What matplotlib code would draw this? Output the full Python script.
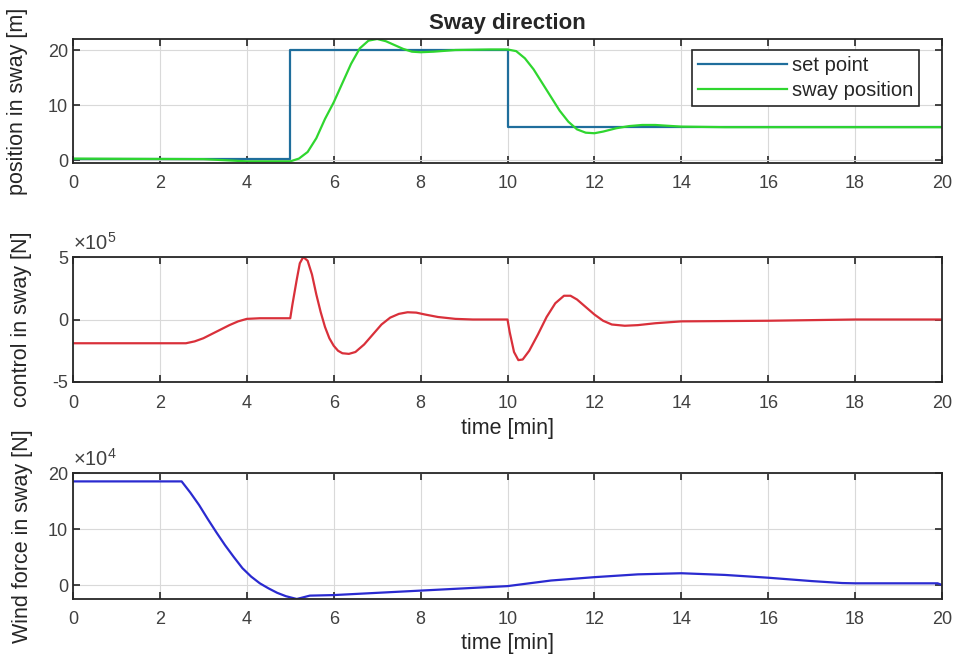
import numpy as np
import matplotlib
matplotlib.use("Agg")
import matplotlib.pyplot as plt
from matplotlib.ticker import FuncFormatter

plt.rcParams['font.family'] = ['Liberation Sans', 'DejaVu Sans']
plt.rcParams['axes.unicode_minus'] = False
plt.rcParams['mathtext.fontset'] = 'custom'
plt.rcParams['mathtext.rm'] = 'Liberation Sans'
plt.rcParams['mathtext.it'] = 'Liberation Sans:italic'

# ---- data ----
setpoint_t = [0, 5, 5, 10, 10, 20]
setpoint_y = [0.3, 0.3, 20, 20, 6, 6]

sway_t = [0, 3, 4, 5, 5.2, 5.4, 5.6, 5.8, 6.0, 6.2, 6.4, 6.6, 6.8, 7.0, 7.2, 7.4, 7.6,
          7.8, 8.0, 8.3, 8.8, 9.6, 10.0, 10.2, 10.4, 10.6, 10.8, 11.0, 11.2, 11.4,
          11.6, 11.8, 12.0, 12.2, 12.5, 12.8, 13.1, 13.4, 14.0, 15.0, 20.0]
sway_y = [0.3, 0.2, -0.2, -0.2, 0.3, 1.5, 4.0, 7.5, 10.5, 14.0, 17.5, 20.3, 21.7, 22.0,
          21.6, 20.9, 20.2, 19.7, 19.6, 19.7, 20.0, 20.1, 20.1, 19.8, 18.5, 16.5,
          14.0, 11.5, 9.0, 7.0, 5.6, 5.0, 4.9, 5.2, 5.8, 6.2, 6.4, 6.4, 6.1, 6.0, 6.0]

control_t = [0, 2.6, 2.8, 3.0, 3.2, 3.4, 3.6, 3.8, 4.0, 4.3, 5.0, 5.05, 5.15, 5.22,
             5.3, 5.4, 5.5, 5.6, 5.7, 5.8, 5.9, 6.0, 6.1, 6.2, 6.35, 6.5, 6.7, 6.9,
             7.1, 7.3, 7.5, 7.7, 7.9, 8.1, 8.4, 8.8, 9.2, 10.0, 10.05, 10.15, 10.25,
             10.35, 10.5, 10.7, 10.9, 11.1, 11.3, 11.45, 11.6, 11.8, 12.0, 12.2,
             12.4, 12.7, 13.0, 13.4, 14.0, 16.0, 18.0, 20.0]
control_1e5 = [-1.9, -1.9, -1.75, -1.5, -1.15, -0.8, -0.45, -0.15, 0.05, 0.1, 0.1,
               1.2, 3.2, 4.5, 5.0, 4.7, 3.6, 2.0, 0.6, -0.6, -1.5, -2.1, -2.5, -2.7,
               -2.75, -2.6, -2.0, -1.2, -0.4, 0.15, 0.45, 0.58, 0.55, 0.4, 0.2, 0.05,
               0.0, 0.0, -1.0, -2.6, -3.25, -3.2, -2.5, -1.2, 0.2, 1.3, 1.9, 1.9, 1.6,
               1.0, 0.4, -0.1, -0.4, -0.5, -0.45, -0.3, -0.15, -0.1, 0.0, 0.0]

wind_t = [0, 2.5, 2.7, 2.9, 3.1, 3.3, 3.5, 3.7, 3.9, 4.1, 4.3, 4.5, 4.7, 4.9, 5.15,
          5.3, 5.45, 6.0, 7.0, 8.0, 9.0, 10.0, 10.5, 11.0, 12.0, 13.0, 14.0, 15.0,
          16.0, 17.0, 17.7, 18.0, 19.9, 20.0]
wind_1e4 = [18.5, 18.5, 16.5, 14.3, 11.8, 9.4, 7.1, 5.0, 3.0, 1.5, 0.3, -0.6, -1.4,
            -2.0, -2.5, -2.2, -1.9, -1.8, -1.4, -1.0, -0.6, -0.2, 0.3, 0.8, 1.4, 1.9,
            2.1, 1.8, 1.3, 0.7, 0.35, 0.3, 0.3, 0.0]

xticks = [0, 2, 4, 6, 8, 10, 12, 14, 16, 18, 20]

# ---- figure ----
fig = plt.figure(figsize=(9.57, 6.61), dpi=100)
W, H = 957, 661
def rect(l, t, r, b):
    return [l / W, 1 - b / H, (r - l) / W, (b - t) / H]

ax1 = fig.add_axes(rect(73, 39, 942, 163))
ax2 = fig.add_axes(rect(73, 257, 942, 382))
ax3 = fig.add_axes(rect(73, 473, 942, 599))

FS = 13
LFS = 15.5
TXT = '#262626'
for ax in (ax1, ax2, ax3):
    ax.set_xlim(0, 20)
    ax.set_xticks(xticks)
    ax.grid(True, color='#d9d9d9', linewidth=0.8)
    ax.set_axisbelow(True)
    ax.tick_params(axis='x', pad=9)
    ax.tick_params(direction='in', top=True, right=True, labelsize=FS,
                   length=5, width=1.2, colors=TXT, labelcolor='#404040')
    for s in ax.spines.values():
        s.set_linewidth(1.3)
        s.set_color(TXT)

ax1.plot(setpoint_t, setpoint_y, color='#1f6e9c', linewidth=1.6, label='set point')
ax1.plot(sway_t, sway_y, color='#2fd62f', linewidth=1.6, label='sway position')
ax1.set_ylim(-0.5, 22)
ax1.set_yticks([0, 10, 20])
ax1.set_ylabel('position in sway [m]', fontsize=LFS, color=TXT)
ax1.yaxis.set_label_coords(-0.052, 0.5)
ax1.set_title('Sway direction', fontsize=16, fontweight='bold', pad=7, color=TXT)
leg = ax1.legend(loc='upper right', fontsize=14.5, handlelength=4.4, fancybox=False,
                 edgecolor=TXT, framealpha=1, borderaxespad=0,
                 labelspacing=0.3, handletextpad=0.25, borderpad=0.3,
                 bbox_to_anchor=(0.9735, 0.911))
leg.get_frame().set_linewidth(1.2)
for t in leg.get_texts():
    t.set_color(TXT)

ax2.plot(control_t, np.array(control_1e5) * 1e5, color='#d9303a', linewidth=1.6)
ax2.set_ylim(-5e5, 5e5)
ax2.set_yticks([-5e5, 0, 5e5])
ax2.yaxis.set_major_formatter(FuncFormatter(lambda v, p: f"{v / 1e5:g}"))
ax2.text(0.0, 1.025, r'$\times\mathregular{10^{5}}$', transform=ax2.transAxes,
         fontsize=14.5, color='#404040', ha='left', va='bottom')
ax2.set_ylabel('control in sway [N]', fontsize=LFS, color=TXT)
ax2.yaxis.set_label_coords(-0.047, 0.5)
ax2.set_xlabel('time [min]', fontsize=LFS, labelpad=5, color=TXT)

ax3.plot(wind_t, np.array(wind_1e4) * 1e4, color='#2a2ad0', linewidth=1.6)
ax3.set_ylim(-2.5e4, 20e4)
ax3.set_yticks([0, 10e4, 20e4])
ax3.yaxis.set_major_formatter(FuncFormatter(lambda v, p: f"{v / 1e4:g}"))
ax3.text(0.0, 1.025, r'$\times\mathregular{10^{4}}$', transform=ax3.transAxes,
         fontsize=14.5, color='#404040', ha='left', va='bottom')
ax3.set_ylabel('Wind force in sway [N]', fontsize=LFS, color=TXT)
ax3.yaxis.set_label_coords(-0.046, 0.5)
ax3.set_xlabel('time [min]', fontsize=LFS, labelpad=3, color=TXT)

fig.savefig('out.png', dpi=100, facecolor='white')
